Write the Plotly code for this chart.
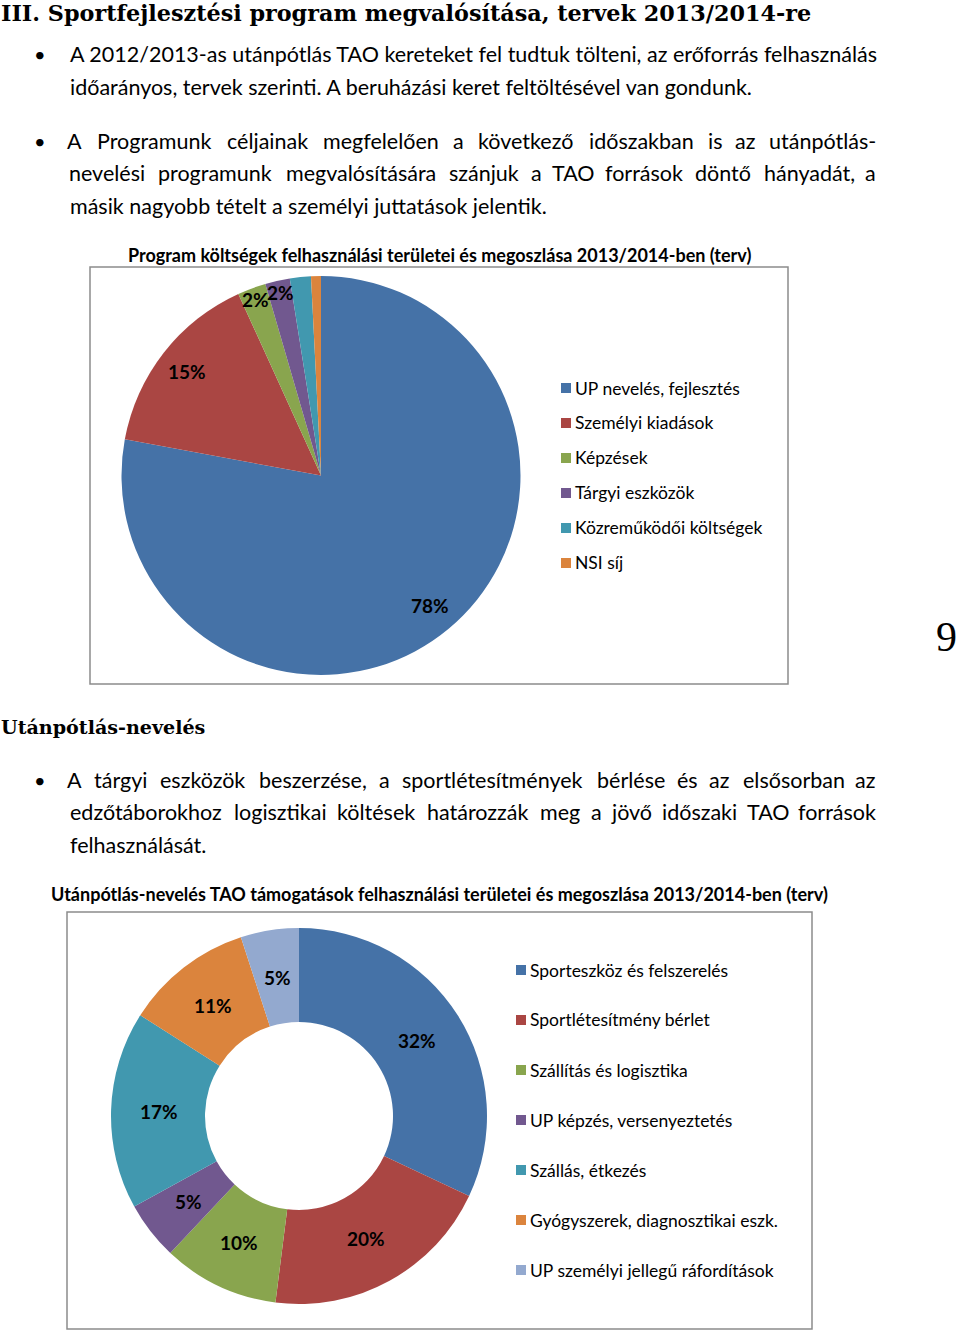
import math
import plotly.graph_objects as go

W, H = 960, 1332

# ---------------- data ----------------
heading = "III. Sportfejlesztési program megvalósítása, tervek 2013/2014-re"
para1 = [
    "A 2012/2013-as utánpótlás TAO kereteket fel tudtuk tölteni, az erőforrás felhasználás",
    "időarányos, tervek szerinti. A beruházási keret feltöltésével van gondunk.",
]
para2 = [
    "A Programunk céljainak megfelelően a következő időszakban is az utánpótlás-",
    "nevelési programunk megvalósítására szánjuk a TAO források döntő hányadát, a",
    "másik nagyobb tételt a személyi juttatások jelentik.",
]
heading2 = "Utánpótlás-nevelés"
para3 = [
    "A tárgyi eszközök beszerzése, a sportlétesítmények bérlése és az elsősorban az",
    "edzőtáborokhoz logisztikai költések határozzák meg a jövő időszaki TAO források",
    "felhasználását.",
]
page_no = "9"

title1 = "Program költségek felhasználási területei és megoszlása 2013/2014-ben (terv)"
cats1 = ["UP nevelés, fejlesztés", "Személyi kiadások", "Képzések",
         "Tárgyi eszközök", "Közreműködői költségek", "NSI síj"]
vals1 = [77.9, 15.3, 2.3, 2.0, 1.7, 0.8]
text1 = ["78%", "15%", "2%", "2%", "", ""]
cols1 = ["#4572A7", "#AA4643", "#89A54E", "#71588F", "#4198AF", "#DB843D"]

title2 = "Utánpótlás-nevelés TAO támogatások felhasználási területei és megoszlása 2013/2014-ben (terv)"
cats2 = ["Sporteszköz és felszerelés", "Sportlétesítmény bérlet", "Szállítás és logisztika",
         "UP képzés, versenyeztetés", "Szállás, étkezés",
         "Gyógyszerek, diagnosztikai eszk.", "UP személyi jellegű ráfordítások"]
vals2 = [32, 20, 10, 5, 17, 11, 5]
text2 = ["32%", "20%", "10%", "5%", "17%", "11%", "5%"]
cols2 = ["#4572A7", "#AA4643", "#89A54E", "#71588F", "#4198AF", "#DB843D", "#93A9CF"]

# ---------------- helpers ----------------
def X(px):
    return px / W

def Y(py):
    return 1 - py / H

BODY = "Lato"
SERIF = "DejaVu Serif"
BODY_SIZE = 21.5
LEFT, RIGHT = 68, 878

fig = go.Figure()

# pie 1 geometry (pixels)
c1x, c1y, r1 = 321, 475.5, 199.5
fig.add_trace(go.Pie(
    labels=cats1, values=vals1, sort=False, direction="clockwise", rotation=0,
    marker=dict(colors=cols1, line=dict(width=0)),
    textinfo="none", showlegend=False, hoverinfo="label+percent",
    domain=dict(x=[X(c1x - r1), X(c1x + r1)], y=[Y(c1y + r1), Y(c1y - r1)]),
))

# pie 2 geometry (pixels)
c2x, c2y, r2 = 299, 1116, 188
fig.add_trace(go.Pie(
    labels=cats2, values=vals2, sort=False, direction="clockwise", rotation=0,
    hole=0.5,
    marker=dict(colors=cols2, line=dict(width=0)),
    textinfo="none", showlegend=False, hoverinfo="label+percent",
    domain=dict(x=[X(c2x - r2), X(c2x + r2)], y=[Y(c2y + r2), Y(c2y - r2)]),
))

ann = []
shapes = []

def text(x, y, s, size, family=BODY, xanchor="left", color="black"):
    ann.append(dict(x=X(x), y=Y(y), xref="paper", yref="paper", text=s,
                    showarrow=False, xanchor=xanchor, yanchor="middle",
                    font=dict(family=family, size=size, color=color)))

# approximate glyph widths (em) for justifying lines
CW = dict(a=.49, b=.56, c=.45, d=.56, e=.51, f=.31, g=.50, h=.55, i=.23, j=.23,
          k=.49, l=.23, m=.83, n=.55, o=.55, p=.55, q=.55, r=.35, s=.41, t=.34,
          u=.55, v=.49, w=.75, x=.48, y=.49, z=.44)
BASE = str.maketrans("áéíóöőúüűÁÉÍÓÖŐÚÜŰ", "aeiooouuuAEIOOOUUU")

def est(s):
    w = 0
    for ch in s.translate(BASE):
        if ch in CW:
            w += CW[ch]
        elif ch == " ":
            w += .19
        elif ch.isdigit():
            w += .58
        elif ch in "-/":
            w += .34
        elif ch in ",.":
            w += .20
        elif ch.isupper():
            w += .62
        else:
            w += .5
    return w

# calibrate: first (unjustified, full) line of para1 spans LEFT..RIGHT
K = (RIGHT - LEFT) / est(para1[0])

def justified(y, line):
    words = line.split(" ")
    ws = [K * est(w) for w in words]
    gap = (RIGHT - LEFT - sum(ws)) / (len(words) - 1)
    x = LEFT
    for i, (w, wd) in enumerate(zip(words, ws)):
        if i == len(words) - 1:
            text(RIGHT, y, w, BODY_SIZE, xanchor="right")
        else:
            text(x + wd / 2, y, w, BODY_SIZE, xanchor="center")
        x += wd + gap

# page text
text(-1, 13, "<b>" + heading + "</b>", 22.3, family=SERIF)
blocks = [
    ([54, 87], para1, []),
    ([141, 173, 206], para2, [0, 1]),
    ([780, 812, 845], para3, [0, 1]),
]
for ys, lines, just in blocks:
    text(40, ys[0], "•", 20, xanchor="center")
    for i, (yy, ln) in enumerate(zip(ys, lines)):
        if i in just:
            justified(yy, ln)
        else:
            text(LEFT, yy, ln, BODY_SIZE)
text(-1, 727, "<b>" + heading2 + "</b>", 19.1, family=SERIF)
text(959, 637, page_no, 42, family="Liberation Serif", xanchor="right")

# chart frames & titles
shapes.append(dict(type="rect", xref="paper", yref="paper",
                   x0=X(90), x1=X(788), y0=Y(684), y1=Y(267),
                   line=dict(color="#8c8c8c", width=1.5)))
shapes.append(dict(type="rect", xref="paper", yref="paper",
                   x0=X(67), x1=X(812), y0=Y(1329), y1=Y(912),
                   line=dict(color="#8c8c8c", width=1.5)))
text(439, 255, "<b>" + title1 + "</b>", 18, xanchor="center")
text(439, 894, "<b>" + title2 + "</b>", 18, xanchor="center")

# data labels computed from values
def pie_labels(vals, texts, cx, cy, r, rule):
    tot = sum(vals)
    cum = 0
    for v, t in zip(vals, texts):
        mid = 2 * math.pi * (cum + v / 2) / tot
        cum += v
        if not t:
            continue
        rf = rule(v)
        lx = cx + rf * r * math.sin(mid)
        ly = cy - rf * r * math.cos(mid)
        text(lx, ly, "<b>" + t + "</b>", 19, xanchor="center")

pie_labels(vals1, text1, c1x, c1y, r1, lambda v: 0.85 if v > 10 else 0.94)
pie_labels(vals2, text2, c2x, c2y, r2, lambda v: 0.745)

# legends
def legend(x0, y0, dy, cats, cols):
    for i, (c, col) in enumerate(zip(cats, cols)):
        yy = y0 + i * dy
        shapes.append(dict(type="rect", xref="paper", yref="paper",
                           x0=X(x0), x1=X(x0 + 10), y0=Y(yy + 5), y1=Y(yy - 5),
                           fillcolor=col, line=dict(width=0)))
        text(x0 + 12, yy, c, 17.5)

legend(561, 388, 35, cats1, cols1)
legend(516, 970, 50, cats2, cols2)

fig.update_layout(
    width=W, height=H, margin=dict(l=0, r=0, t=0, b=0),
    paper_bgcolor="white", plot_bgcolor="white",
    annotations=ann, shapes=shapes,
)
fig.write_html("out.html")
